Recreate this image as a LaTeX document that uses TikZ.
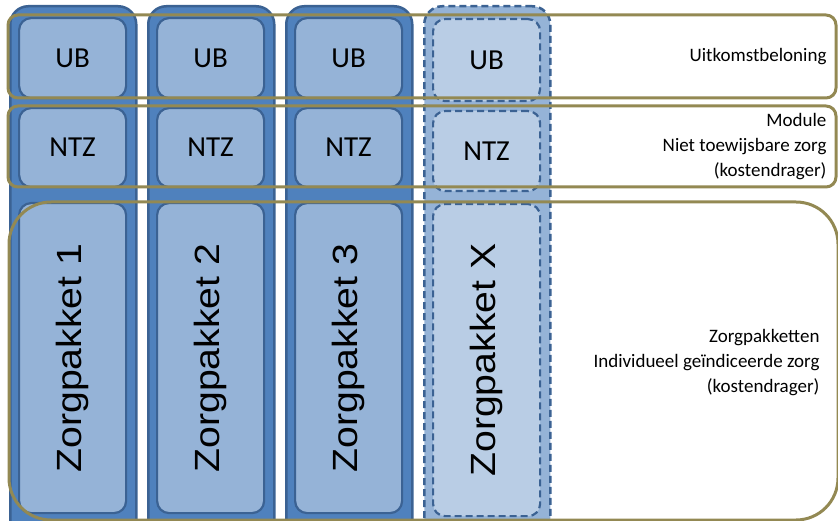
\documentclass[tikz,border=0pt]{standalone}
\usepackage{fontspec}
\setmainfont{Carlito}
\newfontfamily\zpfont{Liberation Sans}
\usepackage{tikz}
\usetikzlibrary{positioning}
\definecolor{bluScuro}{HTML}{4F81BD}
\definecolor{bordoBlu}{HTML}{3B6293}
\definecolor{bluChiaro}{HTML}{95B3D7}
\definecolor{bluPallido}{HTML}{B9CDE5}
\definecolor{oro}{HTML}{938953}
\newcommand{\zptesto}[1]{\scalebox{1.12}[1]{\fontsize{35}{40}\zpfont #1}}

\begin{document}
\begin{tikzpicture}[x = 1pt, y = -1pt,
    colonna/.style = {draw = bordoBlu, fill = bluScuro, line width = 2.5pt, rounded corners = 18pt, anchor = north west, minimum width = 126pt, minimum height = 540pt, inner sep = 0pt},
    blokje/.style = {draw = bordoBlu, fill = bluChiaro, line width = 2.2pt, rounded corners = 12pt, anchor = north west, minimum width = 107pt, inner sep = 0pt, font = \fontsize{29}{32}\selectfont},
    tratteggio/.style = {dash pattern = on 7pt off 4pt},
    banda/.style = {draw = oro, line width = 3pt},
    scritta/.style = {anchor = east, align = right, font = \fontsize{19}{25}\selectfont}]
    \useasboundingbox (0,0) rectangle (838,521);
    
    % Colonne 1, 2, 3
    \foreach \i/\x in {1/9, 2/147, 3/285}{
        \node[colonna] (col\i) at (\x,5){};
        \node[blokje, minimum height = 80pt] (ub\i) at ({\x+9},17){UB};
        \node[blokje, minimum height = 79pt] (ntz\i) at ({\x+9},107){NTZ};
        \node[blokje, minimum height = 310pt] (zp\i) at ({\x+9},202){};
        \node[rotate = 90] at (zp\i.center){\zptesto{Zorgpakket \i}};
    };
    % Colonna X tratteggiata
    \node[colonna, tratteggio, fill = bluChiaro] (colX) at (423,5){};
    \node[blokje, tratteggio, fill = bluPallido, minimum height = 82pt] (ubX) at (432,18){UB};
    \node[blokje, tratteggio, fill = bluPallido, minimum height = 80pt] (ntzX) at (432,110){NTZ};
    \node[blokje, tratteggio, fill = bluPallido, minimum height = 312pt] (zpX) at (432,203){};
    \node[rotate = 90] at (zpX.center){\zptesto{Zorgpakket X}};
    
    % Bande orizzontali
    \draw[banda, rounded corners = 10pt] (8,15) rectangle (836,98);
    \draw[banda, rounded corners = 10pt] (8,106) rectangle (836,187);
    \draw[banda, rounded corners = 42pt] (9,202) rectangle (838,520);
    
    % Testi a destra
    \node[scritta] (tUB) at (830,57){Uitkomstbeloning};
    \node[scritta] (tNTZ) at (830,147){Module\\Niet toewijsbare zorg\\(kostendrager)};
    \node[scritta] (tZP) at (823,363){Zorgpakketten\\Individueel geïndiceerde zorg\\(kostendrager)};
\end{tikzpicture}
\end{document}
